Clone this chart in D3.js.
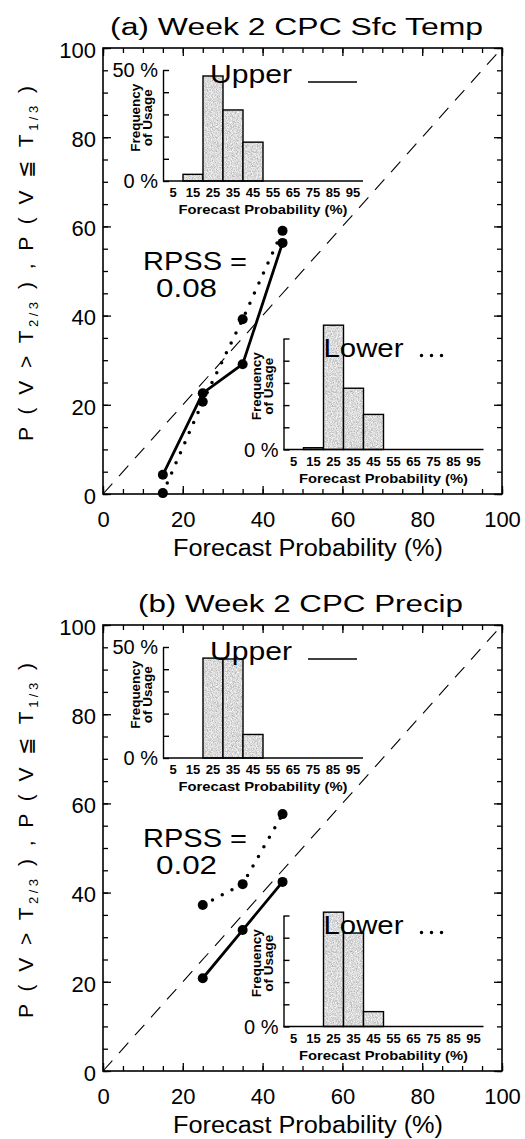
<!DOCTYPE html>
<html><head><meta charset="utf-8">
<script src="https://cdn.jsdelivr.net/npm/d3@7"></script>
<style>body{margin:0;background:#fff}</style>
</head><body>
<svg id="c" width="525" height="1139">
  <defs>
    <filter id="noise" x="0" y="0" width="100%" height="100%">
      <feTurbulence type="fractalNoise" baseFrequency="1.2" numOctaves="1" seed="3" result="t"/>
      <feColorMatrix in="t" type="matrix" values="1 0 0 0 0.2  1 0 0 0 0.2  1 0 0 0 0.2  0 0 0 0 1"/>
    </filter>
    <pattern id="stip" patternUnits="userSpaceOnUse" width="80" height="80">
      <rect width="80" height="80" fill="#aaa" filter="url(#noise)"/>
    </pattern>
  </defs>
</svg>
<script>
// ---- data ----
const probBins = [5,15,25,35,45,55,65,75,85,95];
const tempX = [15,25,35,45];
const tempUpper = [4.3,22.6,29.1,56.3];
const tempLower = [0.2,20.7,39.2,59.0];
const precipX = [25,35,45];
const precipUpper = [20.8,31.6,42.4];
const precipLower = [37.2,41.9,57.6];
const tempUpperFreq = [0,3,47.3,32,17.5,0,0,0,0,0];
const tempLowerFreq = [0,0.8,56,27.6,15.8,0,0,0,0,0];
const precipUpperFreq = [0,0,45,44.6,10.6,0,0,0,0,0];
const precipLowerFreq = [0,0,51.5,42.1,6.7,0,0,0,0,0];
const mainTicks = [0,20,40,60,80,100];
const minorTicks = d3.range(0,101,5);
const freqTicks = [0,10,20,30,40,50];
const titles = ["(a) Week 2 CPC Sfc Temp","(b) Week 2 CPC Precip"];
const rpssValues = ["0.08","0.02"];

// ---- layout ----
const panels = [
  {oy:0, title:titles[0], titleX:110, titleLen:373, rpss:rpssValues[0], xs:tempX, up:tempUpper, lo:tempLower, fu:tempUpperFreq, fl:tempLowerFreq},
  {oy:577, title:titles[1], titleX:138, titleLen:325, rpss:rpssValues[1], xs:precipX, up:precipUpper, lo:precipLower, fu:precipUpperFreq, fl:precipLowerFreq}
];
const svg = d3.select("#c");
const MF = "'Liberation Sans', Arial, sans-serif";

function inset(g, gx, gy0, freq, isUpper) {
  const xs = d3.scaleLinear([0,100],[gx,gx+200]);
  const ys = d3.scaleLinear([0,50],[gy0,gy0-111]);
  g.selectAll(null).data(probBins.map((b,i)=>({b,v:freq[i]})).filter(d=>d.v>0)).enter()
    .append("rect")
    .attr("x",d=>xs(d.b-5)).attr("width",xs(10)-xs(0))
    .attr("y",d=>ys(d.v)).attr("height",d=>ys(0)-ys(d.v))
    .attr("fill","url(#stip)").attr("stroke","#000").attr("stroke-width",1.4);
  g.append("line").attr("x1",xs(0)).attr("x2",xs(100)).attr("y1",ys(0)).attr("y2",ys(0))
    .attr("stroke","#000").attr("stroke-width",1.5);
  const ya = g.append("g").attr("transform",`translate(${gx},0)`)
    .call(d3.axisRight(ys).tickValues(freqTicks).tickSize(6).tickSizeOuter(0).tickFormat(""));
  ya.selectAll("path,line").attr("stroke","#000").attr("stroke-width",1.4);
  const lab = isUpper ? [0,50] : [0];
  g.selectAll(null).data(lab).enter().append("text")
    .attr("x",gx-5).attr("y",d=>ys(d)).attr("dy","0.36em")
    .attr("text-anchor","end").attr("font-family",MF).attr("font-size",20)
    .text(d=>d+" %");
  g.selectAll(null).data(probBins).enter().append("text")
    .attr("x",d=>xs(d)).attr("y",gy0+16).attr("text-anchor","middle")
    .attr("font-family",MF).attr("font-weight","bold").attr("font-size",13).text(d=>d);
  g.append("text").attr("x",xs(50)).attr("y",gy0+33).attr("text-anchor","middle")
    .attr("font-family",MF).attr("font-weight","bold").attr("font-size",13)
    .attr("textLength",169).attr("lengthAdjust","spacingAndGlyphs")
    .text("Forecast Probability (%)");
  const cy = ys(28.5);
  g.append("text").attr("transform",`translate(${gx-23},${cy}) rotate(-90)`)
    .attr("text-anchor","middle").attr("font-family",MF).attr("font-weight","bold").attr("font-size",12)
    .attr("textLength",68).attr("lengthAdjust","spacingAndGlyphs").text("Frequency");
  g.append("text").attr("transform",`translate(${gx-11},${cy}) rotate(-90)`)
    .attr("text-anchor","middle").attr("font-family",MF).attr("font-weight","bold").attr("font-size",12)
    .attr("textLength",57).attr("lengthAdjust","spacingAndGlyphs").text("of Usage");
  // legend
  if (isUpper) {
    g.append("text").attr("x",gx+47).attr("y",gy0-98).attr("font-family",MF).attr("font-size",26)
      .attr("textLength",82).attr("lengthAdjust","spacingAndGlyphs").text("Upper");
    g.append("line").attr("x1",gx+145).attr("x2",gx+194).attr("y1",gy0-99).attr("y2",gy0-99)
      .attr("stroke","#000").attr("stroke-width",1.5);
  } else {
    g.append("text").attr("x",gx+40).attr("y",gy0-93).attr("font-family",MF).attr("font-size",26)
      .attr("textLength",80).attr("lengthAdjust","spacingAndGlyphs").text("Lower");
    g.append("line").attr("x1",gx+138).attr("x2",gx+158.5).attr("y1",gy0-94).attr("y2",gy0-94)
      .attr("stroke","#000").attr("stroke-width",3.5).attr("stroke-linecap","round").attr("stroke-dasharray","0,10");
  }
}

panels.forEach(p=>{
  const g = svg.append("g");
  const oy = p.oy;
  const x = d3.scaleLinear([0,100],[103,502]);
  const y = d3.scaleLinear([0,100],[oy+494,oy+48]);

  // title
  g.append("text").attr("x",p.titleX).attr("y",oy+35).attr("font-family",MF).attr("font-size",23)
    .attr("textLength",p.titleLen).attr("lengthAdjust","spacingAndGlyphs").text(p.title);

  // diagonal
  g.append("line").attr("x1",x(0)).attr("y1",y(0)).attr("x2",x(100)).attr("y2",y(100))
    .attr("stroke","#000").attr("stroke-width",1.1).attr("stroke-dasharray","14,10");

  // axes
  const style = s => { s.select(".domain").remove(); s.selectAll("line").attr("stroke","#000").attr("stroke-width",1.3); };
  g.append("g").attr("transform",`translate(0,${y(0)})`).call(d3.axisBottom(x).tickValues(minorTicks).tickSize(-5).tickFormat("")).call(style);
  g.append("g").attr("transform",`translate(0,${y(100)})`).call(d3.axisTop(x).tickValues(minorTicks).tickSize(-5).tickFormat("")).call(style);
  g.append("g").attr("transform",`translate(${x(0)},0)`).call(d3.axisLeft(y).tickValues(minorTicks).tickSize(-5).tickFormat("")).call(style);
  g.append("g").attr("transform",`translate(${x(100)},0)`).call(d3.axisRight(y).tickValues(minorTicks).tickSize(-5).tickFormat("")).call(style);
  const bx = g.append("g").attr("transform",`translate(0,${y(0)})`)
    .call(d3.axisBottom(x).tickValues(mainTicks).tickSize(-8).tickPadding(17)).call(style);
  bx.selectAll("text").attr("font-family",MF).attr("font-size",22).attr("fill","#000");
  const ly = g.append("g").attr("transform",`translate(${x(0)},0)`)
    .call(d3.axisLeft(y).tickValues(mainTicks).tickSize(-8).tickPadding(7)).call(style);
  ly.selectAll("text").attr("font-family",MF).attr("font-size",22).attr("fill","#000").attr("dy","0.42em");
  g.append("g").attr("transform",`translate(0,${y(100)})`).call(d3.axisTop(x).tickValues(mainTicks).tickSize(-8).tickFormat("")).call(style);
  g.append("g").attr("transform",`translate(${x(100)},0)`).call(d3.axisRight(y).tickValues(mainTicks).tickSize(-8).tickFormat("")).call(style);
  g.append("rect").attr("x",x(0)).attr("y",y(100)).attr("width",x(100)-x(0)).attr("height",y(0)-y(100))
    .attr("fill","none").attr("stroke","#000").attr("stroke-width",1.6);

  // axis titles
  g.append("text").attr("x",173).attr("y",oy+556).attr("font-family",MF).attr("font-size",23)
    .attr("textLength",270).attr("lengthAdjust","spacingAndGlyphs").text("Forecast Probability (%)");
  const yt = g.append("text").attr("transform",`translate(33,${oy+263.5}) rotate(-90)`)
    .attr("text-anchor","middle").attr("font-family",MF).attr("font-size",21)
    .attr("textLength",355).attr("lengthAdjust","spacing");
  yt.append("tspan").text("P ( V > T");
  yt.append("tspan").attr("font-size",13).attr("dy",5).text("2/3");
  yt.append("tspan").attr("dy",-5).text(" ) , P ( V \u2266 T");
  yt.append("tspan").attr("font-size",13).attr("dy",5).text("1/3");
  yt.append("tspan").attr("dy",-5).text(" )");

  // insets
  inset(g, 163, oy+181, p.fu, true);
  inset(g, 283.5, oy+449.5, p.fl, false);

  // RPSS
  g.append("text").attr("x",143).attr("y",oy+270).attr("font-family",MF).attr("font-size",25)
    .attr("textLength",104).attr("lengthAdjust","spacingAndGlyphs").text("RPSS =");
  g.append("text").attr("x",156).attr("y",oy+297).attr("font-family",MF).attr("font-size",25)
    .attr("textLength",61).attr("lengthAdjust","spacingAndGlyphs").text(p.rpss);

  // reliability curves
  const line = d3.line().x(d=>x(d[0])).y(d=>y(d[1]));
  const upPts = p.xs.map((v,i)=>[v,p.up[i]]);
  const loPts = p.xs.map((v,i)=>[v,p.lo[i]]);
  g.append("path").attr("d",line(loPts)).attr("fill","none").attr("stroke","#000")
    .attr("stroke-width",3.5).attr("stroke-linecap","round").attr("stroke-dasharray","0,11");
  g.append("path").attr("d",line(upPts)).attr("fill","none").attr("stroke","#000").attr("stroke-width",2.8);
  g.selectAll(null).data(upPts.concat(loPts)).enter().append("circle")
    .attr("cx",d=>x(d[0])).attr("cy",d=>y(d[1])).attr("r",5).attr("fill","#000");
});
</script>
</body></html>
